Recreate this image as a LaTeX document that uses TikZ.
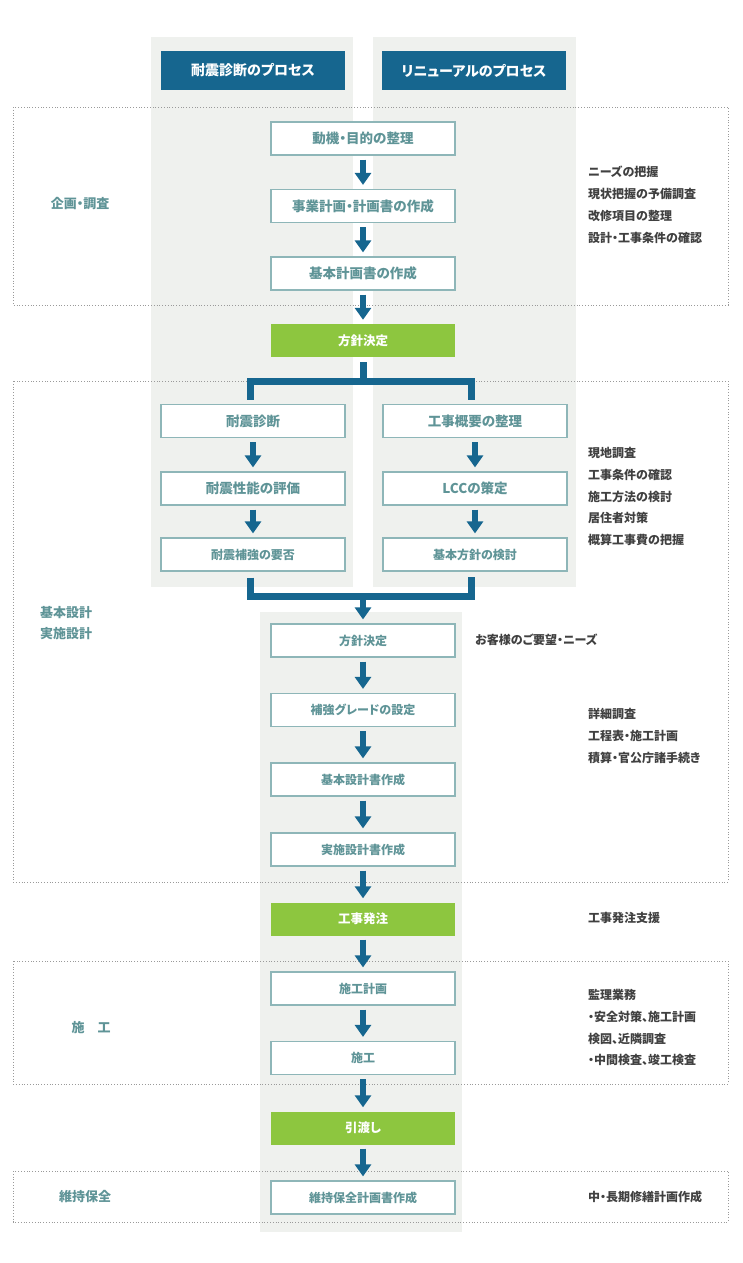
\documentclass[tikz,border=0pt]{standalone}
\usepackage{fontspec}
\setmainfont{Noto Sans CJK JP}[RawFeature=+palt]
\usetikzlibrary{arrows.meta}
\definecolor{flowblue}{HTML}{16668F}
\definecolor{leaf}{HTML}{8DC63F}
\definecolor{panelgray}{HTML}{EFF1EE}
\definecolor{boxline}{HTML}{8EB6B8}
\definecolor{boxtext}{HTML}{5F9497}
\definecolor{notetext}{HTML}{404040}
\definecolor{dotline}{HTML}{9A9A9A}

\begin{document}
\begin{tikzpicture}[x=1pt,y=-1pt,
		procbox/.style={draw=boxline, line width=1.2pt, fill=white, minimum width=184pt, minimum height=33pt, inner sep=0pt, text=boxtext, font=\bfseries\fontsize{13.5}{13.5}\selectfont},
		small/.style={font=\bfseries\fontsize{12}{12}\selectfont},
		keybox/.style={fill=leaf, minimum width=184pt, minimum height=33pt, inner sep=0pt, text=white, font=\bfseries\fontsize{12.5}{12.5}\selectfont},
		headbox/.style={fill=flowblue, minimum width=184pt, minimum height=39pt, inner sep=0pt, text=white, font=\bfseries\fontsize{14}{14}\selectfont},
		zone/.style={draw=dotline, dotted, line width=0.8pt},
		phase/.style={text=boxtext, inner sep=0pt, align=left, font=\bfseries\fontsize{13}{21}\selectfont},
		note/.style={anchor=north west, inner sep=0pt, align=left, text=notetext, font=\bfseries\fontsize{12}{21.8}\selectfont},
		arr/.style={draw=flowblue, line width=6pt, -{Triangle[width=16pt,length=12pt]}, shorten <=4pt, shorten >=4pt},
		pipe/.style={draw=flowblue, line width=7pt}]
	\useasboundingbox (0,0) rectangle (743,1263);

	\fill[panelgray] (151,37) rectangle (353,587);
	\fill[panelgray] (373,37) rectangle (576,587);
	\fill[panelgray] (260,612) rectangle (462,1232);

	\draw[zone] (13,107) rectangle (728,305);
	\draw[zone] (13,381) rectangle (728,882);
	\draw[zone] (13,961) rectangle (728,1084);
	\draw[zone] (13,1171) rectangle (728,1222);

	\node[headbox] (headL) at (253,70.5) {耐震診断のプロセス};
	\node[headbox] (headR) at (474,70.5) {リニューアルのプロセス};

	\node[procbox] (mokuteki) at (363,138.5) {動機・目的の整理};
	\node[procbox] (jigyo) at (363,206) {事業計画・計画書の作成};
	\node[procbox] (kihon) at (363,273.5) {基本計画書の作成};
	\node[keybox] (hoshinA) at (363,340.5) {方針決定};

	\node[procbox] (sindan) at (253,421) {耐震診断};
	\node[procbox] (hyoka) at (253,488.5) {耐震性能の評価};
	\node[procbox, small] (yohi) at (253,554.5) {耐震補強の要否};
	\node[procbox] (gaiyo) at (475,421) {工事概要の整理};
	\node[procbox] (lcc) at (475,488.5) {LCCの策定};
	\node[procbox, small] (kento) at (475,554.5) {基本方針の検討};

	\node[procbox, small] (hoshinB) at (363,640.5) {方針決定};
	\node[procbox, small] (grade) at (363,710) {補強グレードの設定};
	\node[procbox, small] (kisekkei) at (363,779.5) {基本設計書作成};
	\node[procbox, small] (jisshi) at (363,849.5) {実施設計書作成};
	\node[keybox] (hatchu) at (363,919) {工事発注};
	\node[procbox, small] (sekokei) at (363,988.5) {施工計画};
	\node[procbox, small] (seko) at (363,1058) {施工};
	\node[keybox] (hikiwata) at (363,1128) {引渡し};
	\node[procbox, small] (iji) at (363,1197.5) {維持保全計画書作成};

	\node[phase] (ph1) at (80,204) {企画・調査};
	\node[phase, anchor=west] (ph2) at (40,623.5) {基本設計\\実施設計};
	\node[phase] (ph3) at (91,1028) {施　工};
	\node[phase] (ph4) at (85,1197) {維持保全};

	\node[note] (nt1) at (588,166) {ニーズの把握\\現状把握の予備調査\\改修項目の整理\\設計・工事条件の確認};
	\node[note] (nt2) at (588,447) {現地調査\\工事条件の確認\\施工方法の検討\\居住者対策\\概算工事費の把握};
	\node[note] (nt3) at (475,634) {お客様のご要望・ニーズ};
	\node[note] (nt4) at (588,708) {詳細調査\\工程表・施工計画\\積算・官公庁諸手続き};
	\node[note] (nt5) at (588,912) {工事発注支援};
	\node[note] (nt6) at (588,989) {監理業務\\・安全対策、施工計画\\検図、近隣調査\\・中間検査、竣工検査};
	\node[note] (nt7) at (588,1191) {中・長期修繕計画作成};

	\draw[arr] (mokuteki.south) -- (jigyo.north);
	\draw[arr] (jigyo.south) -- (kihon.north);
	\draw[arr] (kihon.south) -- (hoshinA.north);

	\coordinate (forkL) at (250,381.5);
	\coordinate (forkR) at (471.5,381.5);
	\draw[pipe, shorten <=5pt] (hoshinA.south) -- (hoshinA.south |- forkL);
	\draw[pipe, shorten <=4pt, shorten >=4pt] (sindan.north -| forkL) -- (forkL) -- (forkR) -- (gaiyo.north -| forkR);

	\draw[arr] (sindan.south) -- (hyoka.north);
	\draw[arr] (hyoka.south) -- (yohi.north);
	\draw[arr] (gaiyo.south) -- (lcc.north);
	\draw[arr] (lcc.south) -- (kento.north);

	\coordinate (joinL) at (250,596);
	\coordinate (joinR) at (471.5,596);
	\draw[pipe, shorten <=6pt, shorten >=5pt] (yohi.south -| joinL) -- (joinL) -- (joinR) -- (kento.south -| joinR);
	\draw[arr, shorten <=0pt] (hoshinB.north |- joinL) -- (hoshinB.north);

	\draw[arr] (hoshinB.south) -- (grade.north);
	\draw[arr] (grade.south) -- (kisekkei.north);
	\draw[arr] (kisekkei.south) -- (jisshi.north);
	\draw[arr] (jisshi.south) -- (hatchu.north);
	\draw[arr] (hatchu.south) -- (sekokei.north);
	\draw[arr] (sekokei.south) -- (seko.north);
	\draw[arr] (seko.south) -- (hikiwata.north);
	\draw[arr] (hikiwata.south) -- (iji.north);
\end{tikzpicture}
\end{document}
